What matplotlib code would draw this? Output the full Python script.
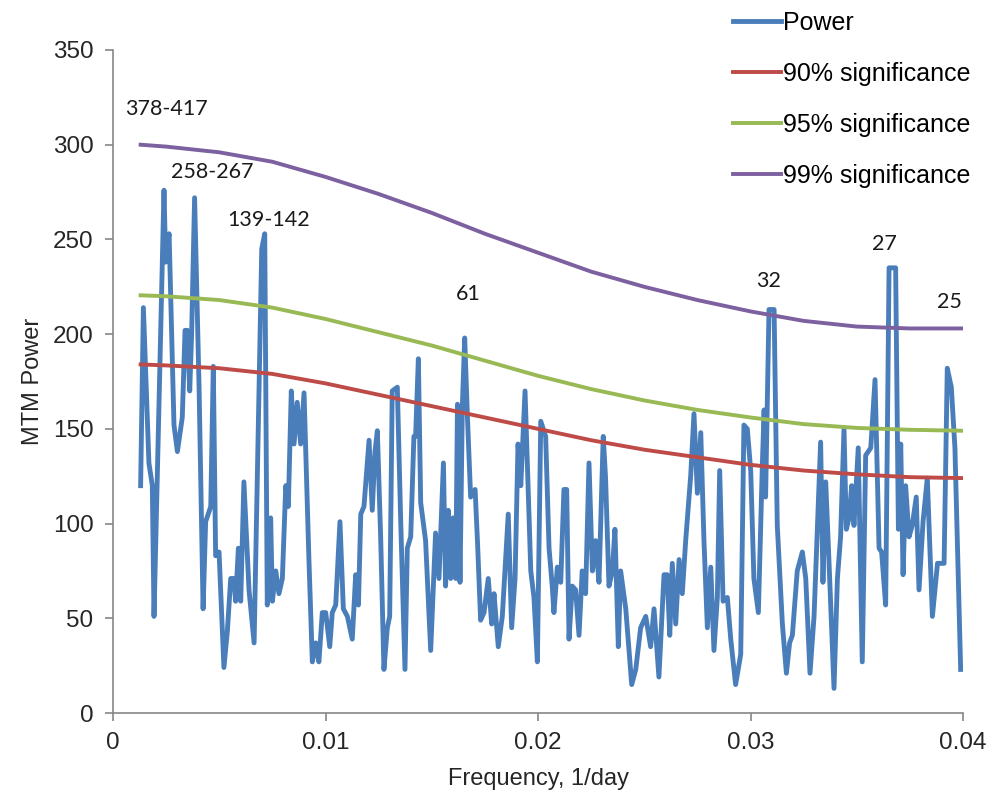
import matplotlib
matplotlib.use("Agg")
import matplotlib.pyplot as plt

# ── MTM spectrum (frequency in 1/day, power) ─────────────────────────────────
freq = [
    0.00130, 0.00143, 0.00169, 0.00185, 0.00193, 0.00240, 0.00248, 0.00264, 0.00287, 0.00303,
    0.00326, 0.00339, 0.00350, 0.00361, 0.00370, 0.00384, 0.00405, 0.00424, 0.00436, 0.00460,
    0.00472, 0.00483, 0.00499, 0.00522, 0.00538, 0.00554, 0.00569, 0.00577, 0.00590, 0.00601,
    0.00616, 0.00640, 0.00664, 0.00700, 0.00714, 0.00726, 0.00742, 0.00750, 0.00766, 0.00781,
    0.00797, 0.00813, 0.00825, 0.00839, 0.00852, 0.00867, 0.00883, 0.00899, 0.00922, 0.00938,
    0.00954, 0.00969, 0.00985, 0.01001, 0.01020, 0.01032, 0.01048, 0.01068, 0.01084, 0.01103,
    0.01126, 0.01142, 0.01155, 0.01166, 0.01181, 0.01205, 0.01220, 0.01233, 0.01244, 0.01260,
    0.01275, 0.01291, 0.01302, 0.01314, 0.01338, 0.01354, 0.01374, 0.01385, 0.01401, 0.01416,
    0.01424, 0.01437, 0.01448, 0.01471, 0.01495, 0.01518, 0.01534, 0.01555, 0.01565, 0.01578,
    0.01589, 0.01600, 0.01613, 0.01621, 0.01633, 0.01644, 0.01655, 0.01668, 0.01683, 0.01704,
    0.01715, 0.01730, 0.01746, 0.01766, 0.01782, 0.01793, 0.01813, 0.01832, 0.01860, 0.01876,
    0.01892, 0.01906, 0.01919, 0.01939, 0.01950, 0.01966, 0.01981, 0.01997, 0.02013, 0.02036,
    0.02052, 0.02067, 0.02075, 0.02091, 0.02107, 0.02122, 0.02135, 0.02146, 0.02161, 0.02177,
    0.02193, 0.02208, 0.02224, 0.02240, 0.02256, 0.02271, 0.02287, 0.02307, 0.02318, 0.02334,
    0.02350, 0.02362, 0.02378, 0.02389, 0.02413, 0.02441, 0.02460, 0.02483, 0.02507, 0.02530,
    0.02546, 0.02569, 0.02593, 0.02608, 0.02620, 0.02632, 0.02648, 0.02664, 0.02679, 0.02695,
    0.02719, 0.02734, 0.02750, 0.02766, 0.02781, 0.02797, 0.02813, 0.02828, 0.02844, 0.02855,
    0.02871, 0.02891, 0.02907, 0.02930, 0.02954, 0.02969, 0.02985, 0.03001, 0.03016, 0.03037,
    0.03056, 0.03064, 0.03071, 0.03087, 0.03111, 0.03126, 0.03150, 0.03169, 0.03184, 0.03197,
    0.03220, 0.03244, 0.03260, 0.03280, 0.03299, 0.03330, 0.03341, 0.03354, 0.03369, 0.03393,
    0.03409, 0.03424, 0.03440, 0.03451, 0.03464, 0.03476, 0.03487, 0.03507, 0.03526, 0.03542,
    0.03566, 0.03586, 0.03605, 0.03617, 0.03636, 0.03652, 0.03683, 0.03696, 0.03707, 0.03718,
    0.03730, 0.03746, 0.03761, 0.03780, 0.03793, 0.03812, 0.03832, 0.03856, 0.03880, 0.03911,
    0.03926, 0.03945, 0.03962, 0.03989,
]
power = [
    120, 214, 132, 120, 51, 276, 238, 253, 152, 138,
    156, 202, 202, 170, 200, 272, 172, 55, 101, 109,
    183, 83, 85, 24, 43, 71, 71, 59, 87, 59,
    122, 65, 37, 245, 253, 57, 103, 59, 75, 63,
    71, 120, 109, 170, 142, 164, 142, 169, 81, 27,
    37, 27, 53, 53, 35, 53, 57, 101, 55, 51,
    39, 73, 57, 105, 109, 144, 107, 138, 149, 91,
    23, 45, 51, 170, 172, 101, 23, 87, 93, 146,
    146, 187, 111, 91, 33, 95, 71, 132, 67, 107,
    71, 103, 71, 163, 69, 162, 198, 156, 114, 118,
    91, 49, 53, 71, 47, 63, 35, 51, 105, 45,
    71, 142, 120, 170, 132, 75, 61, 27, 154, 146,
    87, 67, 53, 77, 69, 118, 118, 39, 67, 65,
    41, 75, 63, 132, 75, 91, 69, 146, 124, 67,
    75, 97, 35, 75, 55, 15, 23, 45, 51, 35,
    55, 19, 73, 73, 41, 79, 47, 81, 63, 91,
    126, 158, 116, 148, 91, 45, 77, 33, 61, 128,
    59, 61, 39, 15, 31, 152, 150, 128, 71, 53,
    132, 160, 114, 213, 213, 99, 47, 21, 37, 41,
    75, 85, 71, 21, 51, 143, 69, 122, 81, 13,
    71, 93, 150, 97, 103, 120, 99, 140, 27, 136,
    140, 176, 87, 85, 57, 235, 235, 97, 142, 73,
    120, 93, 99, 114, 65, 101, 124, 51, 79, 79,
    182, 172, 140, 23,
]

# ── Significance levels ──────────────────────────────────────────────────────
sig_freq = [0.0013, 0.0025, 0.005, 0.0075, 0.01, 0.0125, 0.015, 0.0175, 0.02,
            0.0225, 0.025, 0.0275, 0.03, 0.0325, 0.035, 0.0375, 0.04]
sig90 = [184, 183.5, 182, 179, 174, 168, 162, 156, 150,
         144, 139, 135, 131, 128, 126, 124.5, 124]
sig95 = [220.5, 220, 218, 214, 208, 201, 194, 186, 178,
         171, 165, 160, 156, 152.5, 150.5, 149.5, 149]
sig99 = [300, 299, 296, 291, 283, 274, 264, 253, 243,
         233, 225, 218, 212, 207, 204, 203, 203]

# ── Period labels (days) ─────────────────────────────────────────────────────
peak_labels = ["378-417", "258-267", "139-142", "61", "32", "27", "25"]
peak_x = [0.00253, 0.00466, 0.00730, 0.0167, 0.03083, 0.03632, 0.03934]
peak_y = [319, 285.5, 260, 221, 228, 247.5, 217]

BLUE, RED, GREEN, PURPLE = "#4A7EBB", "#BE4B48", "#98B954", "#7D60A0"
AXIS_GREY = "#868686"

plt.rcParams["font.family"] = ["Liberation Sans", "DejaVu Sans"]

fig = plt.figure(figsize=(9.92, 7.99), dpi=100)
ax = fig.add_axes([113 / 992, 86 / 799, 850 / 992, 663 / 799])

ax.plot(freq, power, color=BLUE, lw=3.5, solid_joinstyle="round", label="Power", zorder=3)
ax.plot(sig_freq, sig90, color=RED, lw=2.8, label="90% significance", zorder=4)
ax.plot(sig_freq, sig95, color=GREEN, lw=2.8, label="95% significance", zorder=4)
ax.plot(sig_freq, sig99, color=PURPLE, lw=2.8, label="99% significance", zorder=4)

for txt, x, y in zip(peak_labels, peak_x, peak_y):
    ax.text(x, y, txt, ha="center", va="center", fontsize=15.5,
            family=["Lato", "DejaVu Sans"], color="#1a1a1a")

ax.set_xlim(0, 0.04)
ax.set_ylim(0, 350)
ax.set_xticks([0, 0.01, 0.02, 0.03, 0.04])
ax.set_xticklabels(["0", "0.01", "0.02", "0.03", "0.04"])
ax.set_yticks(range(0, 351, 50))

for side in ("top", "right"):
    ax.spines[side].set_visible(False)
for side in ("left", "bottom"):
    ax.spines[side].set_color(AXIS_GREY)
    ax.spines[side].set_linewidth(1.2)
ax.tick_params(direction="out", length=6, width=1.2, color=AXIS_GREY,
               labelsize=17.5, labelcolor="#262626", pad=8)

ax.set_xlabel("Frequency, 1/day", fontsize=17, color="#262626", labelpad=10)
ax.set_ylabel("MTM Power", fontsize=17, color="#262626", labelpad=6)

fig.legend(loc="upper left", bbox_to_anchor=(733 / 992, 1 - 11 / 799),
           frameon=False, fontsize=18, handlelength=1.9, handletextpad=0.1,
           labelspacing=1.08, borderpad=0, borderaxespad=0)

fig.savefig("out.png", dpi=100)
plt.close(fig)
